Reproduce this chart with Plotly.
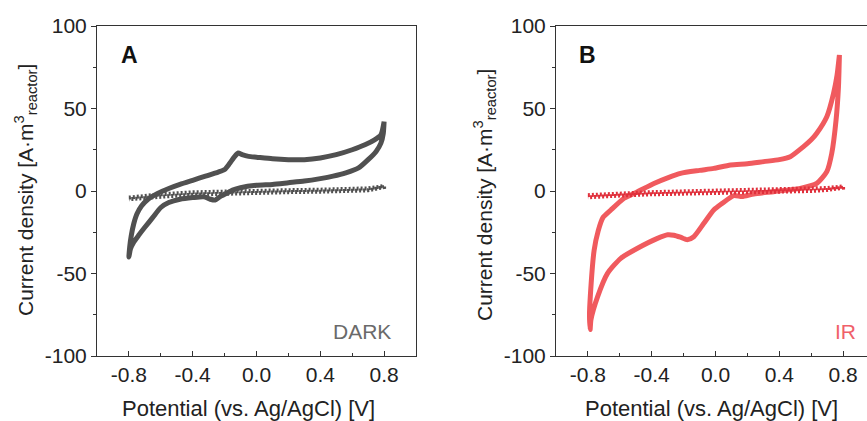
import plotly.graph_objects as go

# ---------------- Panel A (DARK) ----------------
dark_fwd_v = [-0.80, -0.795, -0.785, -0.77, -0.75, -0.72, -0.68, -0.62, -0.55, -0.48, -0.40, -0.32,
              -0.24, -0.20, -0.17, -0.14, -0.115, -0.09, -0.05, 0.0, 0.1, 0.2, 0.3, 0.4, 0.5, 0.6,
              0.68, 0.74, 0.78, 0.80]
dark_fwd_i = [-40, -34, -27, -20, -14, -9, -5, -1.5, 1.5, 4, 6.5, 9,
              11.5, 13, 16.5, 20.5, 23, 22, 21, 20.5, 19.5, 19, 19, 20, 22, 25,
              28, 31, 34, 42]
dark_rev_v = [0.80, 0.795, 0.78, 0.75, 0.70, 0.64, 0.56, 0.48, 0.40, 0.30, 0.20, 0.10, 0.0,
              -0.10, -0.15, -0.19, -0.23, -0.26, -0.29, -0.33, -0.40, -0.48, -0.55, -0.60,
              -0.65, -0.70, -0.74, -0.77, -0.79, -0.80]
dark_rev_i = [42, 35, 29, 24, 19, 14, 11, 9, 7.5, 6, 5, 4, 3.5,
              2, 0.5, -1.5, -3.5, -5.5, -5, -3.5, -4, -5, -7, -10,
              -16, -22, -27, -31, -35, -40]
dark_ctrl_v = [-0.80, -0.60, -0.40, -0.20, 0.0, 0.20, 0.40, 0.60, 0.70, 0.80,
               0.80, 0.70, 0.60, 0.40, 0.20, 0.0, -0.20, -0.40, -0.60, -0.80]
dark_ctrl_i = [-4.0, -2.0, -0.8, -0.2, 0.2, 0.5, 0.8, 1.2, 1.6, 3.0,
               2.4, 0.4, 0.0, -0.4, -0.7, -1.0, -1.5, -2.2, -3.5, -5.0]

# ---------------- Panel B (IR) ----------------
ir_fwd_v = [-0.786, -0.790, -0.785, -0.761, -0.735, -0.705, -0.656, -0.573, -0.489, -0.386,
            -0.30, -0.219, -0.10, -0.011, 0.094, 0.20, 0.302, 0.40, 0.469, 0.552, 0.60,
            0.635, 0.698, 0.74, 0.762, 0.777]
ir_fwd_i = [-84, -75, -64, -36, -24, -16, -11.5, -4.4, -0.4, 4.6,
            8, 10.7, 12.5, 13.7, 15.8, 16.5, 17.8, 19, 20.8, 26.9, 31,
            35, 45, 59, 70, 82.4]
ir_rev_v = [0.777, 0.771, 0.756, 0.729, 0.698, 0.635, 0.531, 0.365, 0.24, 0.167, 0.115,
            0.042, -0.011, -0.073, -0.136, -0.177, -0.22, -0.261, -0.30, -0.364, -0.489,
            -0.594, -0.677, -0.739, -0.781, -0.786]
ir_rev_i = [82.4, 63, 43, 22.8, 11.7, 4.6, 1.6, -0.4, -1.8, -3.4, -2.8,
            -7.5, -11.5, -19.6, -27.7, -29.5, -28, -26.8, -26.5, -28.7, -34.7,
            -40.8, -49.9, -64, -78, -84]
ir_ctrl_v = [-0.80, -0.60, -0.40, -0.20, 0.0, 0.20, 0.40, 0.60, 0.70, 0.80,
             0.80, 0.70, 0.60, 0.40, 0.20, 0.0, -0.20, -0.40, -0.60, -0.80]
ir_ctrl_i = [-2.5, -1.5, -0.7, -0.2, 0.2, 0.5, 0.8, 1.3, 1.8, 2.8,
             2.0, 0.6, 0.0, -0.4, -0.7, -1.0, -1.5, -2.0, -2.8, -3.8]

x_tickvals = [-0.8, -0.4, 0.0, 0.4, 0.8]
x_ticktext = ["-0.8", "-0.4", "0.0", "0.4", "0.8"]
y_tickvals = [-100, -50, 0, 50, 100]
y_ticktext = ["-100", "-50", "0", "50", "100"]

DARK = "#505050"
RED = "#f05a5e"
RED_DOT = "#e0303c"
FONT = "Liberation Sans, Arial, sans-serif"

fig = go.Figure()
fig.add_trace(go.Scatter(x=dark_fwd_v + dark_rev_v, y=dark_fwd_i + dark_rev_i, mode="lines",
                         line=dict(color=DARK, width=5, shape="spline", smoothing=0.6),
                         xaxis="x", yaxis="y", showlegend=False))
fig.add_trace(go.Scatter(x=dark_ctrl_v, y=dark_ctrl_i, mode="lines",
                         line=dict(color=DARK, width=4, dash="2px,2px"),
                         xaxis="x", yaxis="y", showlegend=False))
fig.add_trace(go.Scatter(x=ir_fwd_v + ir_rev_v, y=ir_fwd_i + ir_rev_i, mode="lines",
                         line=dict(color=RED, width=5, shape="spline", smoothing=0.6),
                         xaxis="x2", yaxis="y2", showlegend=False))
fig.add_trace(go.Scatter(x=ir_ctrl_v, y=ir_ctrl_i, mode="lines",
                         line=dict(color=RED_DOT, width=4, dash="2px,2px"),
                         xaxis="x2", yaxis="y2", showlegend=False))

W, H = 867, 421
def px(x):
    return x / W
def py(y):
    return 1 - y / H

axis_common = dict(showline=True, linecolor="#333333", linewidth=1, showgrid=False,
                   zeroline=False, ticks="outside", ticklen=5, tickcolor="#333333",
                   automargin=False,
                   tickfont=dict(family=FONT, size=21, color="#222222"))

xcommon = dict(axis_common, ticks="inside", tickmode="array", tickvals=x_tickvals,
               ticktext=x_ticktext, minor=dict(tickvals=[-1.0, -0.6, -0.2, 0.2, 0.6, 1.0],
                                                ticks="inside", ticklen=3, tickcolor="#333333"))
ycommon = dict(axis_common, tickmode="array", tickvals=y_tickvals, ticktext=y_ticktext,
               range=[-100, 100],
               minor=dict(tickvals=[-75, -25, 25, 75], ticks="outside", ticklen=3,
                          tickcolor="#333333"))

fig.update_layout(
    width=W, height=H, margin=dict(l=0, r=0, t=0, b=0, pad=0), autosize=False,
    paper_bgcolor="white", plot_bgcolor="white",
    xaxis=dict(xcommon, domain=[px(97), px(416)], range=[-1.0, 1.0], anchor="y", mirror=True),
    yaxis=dict(ycommon, domain=[py(356), py(26)], anchor="x", mirror=True),
    xaxis2=dict(xcommon, domain=[px(556), 1.0], range=[-1.0, 0.95], anchor="y2", mirror=True),
    yaxis2=dict(ycommon, domain=[py(356), py(26)], anchor="x2", mirror=False),
)

ytitle = "Current density [A·m<sup>3</sup><sub>reactor</sub>]"
xtitle = "Potential (vs. Ag/AgCl) [V]"
ann = [
    dict(text=ytitle, x=px(26), y=py(190), textangle=-90, size=21),
    dict(text=ytitle, x=px(484), y=py(195), textangle=-90, size=21),
    dict(text=xtitle, x=px(248), y=py(408), textangle=0, size=22),
    dict(text=xtitle, x=px(711), y=py(408), textangle=0, size=22),
]
for a in ann:
    fig.add_annotation(xref="paper", yref="paper", showarrow=False, xanchor="center",
                       yanchor="middle", text=a["text"], x=a["x"], y=a["y"],
                       textangle=a["textangle"],
                       font=dict(family=FONT, size=a["size"], color="#222222"))

fig.add_annotation(xref="paper", yref="paper", x=px(129), y=py(55), text="<b>A</b>",
                   xanchor="center", yanchor="middle",
                   showarrow=False, font=dict(family=FONT, size=23, color="#111111"))
fig.add_annotation(xref="paper", yref="paper", x=px(587), y=py(55), text="<b>B</b>",
                   xanchor="center", yanchor="middle",
                   showarrow=False, font=dict(family=FONT, size=23, color="#111111"))
fig.add_annotation(xref="paper", yref="paper", x=px(393), y=py(331), text="DARK",
                   xanchor="right", yanchor="middle",
                   showarrow=False, font=dict(family=FONT, size=21, color="#6a6a6a"))
fig.add_annotation(xref="paper", yref="paper", x=px(858), y=py(331), text="IR",
                   xanchor="right", yanchor="middle",
                   showarrow=False, font=dict(family=FONT, size=21, color="#f0606a"))

fig.write_html("out.html")
